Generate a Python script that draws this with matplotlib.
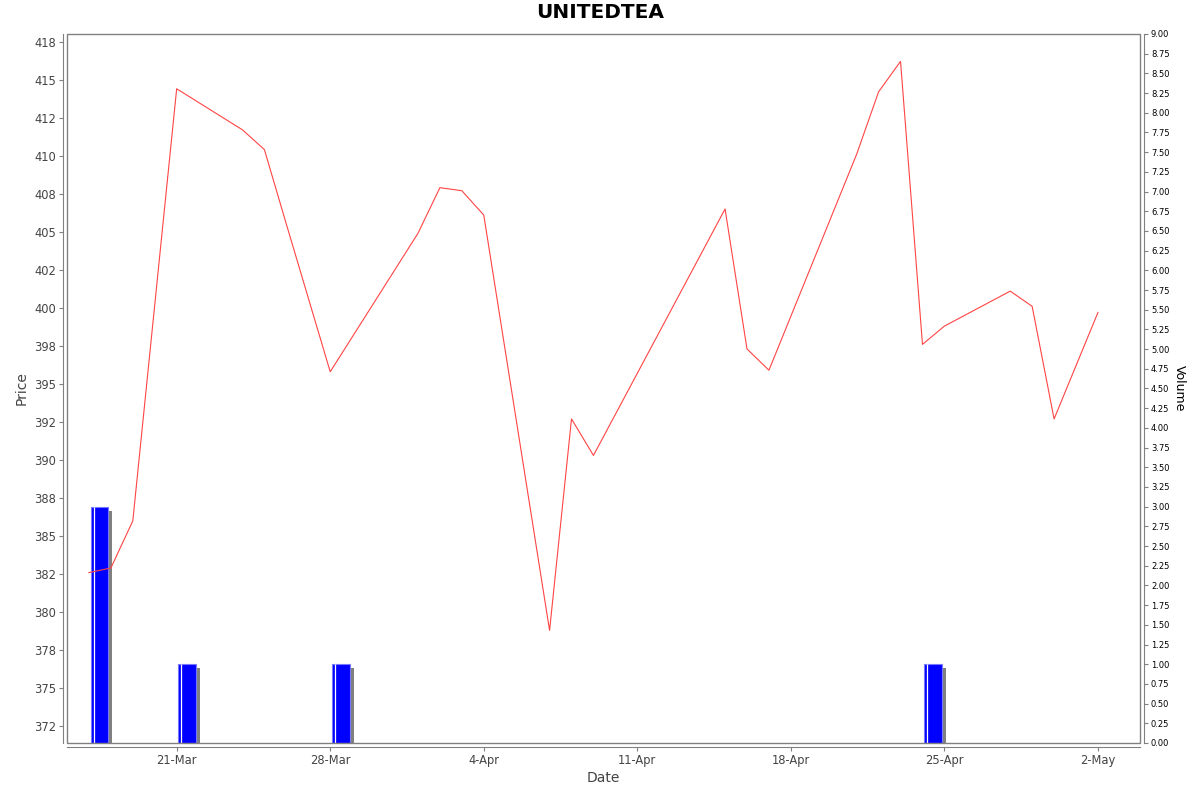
import datetime as dt
import numpy as np
import matplotlib
matplotlib.use('Agg')
import matplotlib.pyplot as plt
import matplotlib.dates as mdates
import matplotlib.transforms as mtransforms
from matplotlib.ticker import FixedLocator, FormatStrFormatter, MultipleLocator
from matplotlib.patches import Rectangle

# price data
price_dates = ['2025-03-17', '2025-03-18', '2025-03-19', '2025-03-21', '2025-03-24',
               '2025-03-25', '2025-03-26', '2025-03-28', '2025-04-01', '2025-04-02',
               '2025-04-03', '2025-04-04', '2025-04-07', '2025-04-08', '2025-04-09',
               '2025-04-15', '2025-04-16', '2025-04-17', '2025-04-21', '2025-04-22',
               '2025-04-23', '2025-04-24', '2025-04-25', '2025-04-28', '2025-04-29',
               '2025-04-30', '2025-05-02']
prices = [382.6, 382.9, 386.0, 414.4, 411.7,
          410.4, 405.5, 395.8, 404.9, 407.9,
          407.7, 406.1, 378.8, 392.7, 390.3,
          406.5, 397.3, 395.9, 410.1, 414.2,
          416.2, 397.6, 398.8, 401.1, 400.1,
          392.7, 399.7]

# volume data
vol_dates = ['2025-03-17', '2025-03-21', '2025-03-28', '2025-04-24']
volumes = [3, 1, 1, 1]

price_ticks = np.arange(372.5, 418, 2.5)

px = [dt.datetime.strptime(d, '%Y-%m-%d') for d in price_dates]
vx = mdates.date2num([dt.datetime.strptime(d, '%Y-%m-%d') for d in vol_dates])

fig = plt.figure(figsize=(12, 7.92), dpi=100)
ax = fig.add_axes([67/1200, 1 - 743/792, (1140-67)/1200, (743-34)/792])
ax2 = ax.twinx()
ax.set_zorder(ax2.get_zorder() + 1)
ax.patch.set_visible(False)

gray = '#808080'
off = 4 / 100 * 72  # 4 px in points

# volume bars with shadow
shadow = mtransforms.offset_copy(ax2.transData, fig=fig, x=4, y=-4, units='dots')
ax2.bar(vx + 0.08, volumes, width=0.8, align='edge', color=gray, linewidth=0,
        transform=shadow)
ax2.bar(vx + 0.08, volumes, width=0.8, align='edge', color='#0000FF',
        edgecolor='#7777FF', linewidth=0.8)
stripe = mtransforms.offset_copy(ax2.transData, fig=fig, x=3, y=0, units='dots')
ax2.vlines(vx + 0.08, 0, volumes, colors='white', linewidth=0.9, transform=stripe)

# price line
ax.plot(px, prices, color='#FF4444', linewidth=0.8)

ax.set_xlim(dt.datetime(2025, 3, 16), dt.datetime(2025, 5, 3, 22))
ax.set_ylim(371.4, 418.0)
ax2.set_ylim(0, 9)

ax.yaxis.set_major_locator(FixedLocator(price_ticks))
ax.yaxis.set_major_formatter(FormatStrFormatter('%.0f'))
ax.xaxis.set_major_locator(mdates.WeekdayLocator(byweekday=mdates.FR))
ax.xaxis.set_major_formatter(mdates.DateFormatter('%-d-%b'))
ax2.yaxis.set_major_locator(MultipleLocator(0.25))
ax2.yaxis.set_major_formatter(FormatStrFormatter('%.2f'))

for a in (ax, ax2):
    for s in a.spines.values():
        s.set_color(gray)
ax.spines['left'].set_position(('outward', off))
ax.spines['bottom'].set_position(('outward', off))
ax.spines['right'].set_visible(False)
ax.spines['top'].set_visible(False)
ax2.spines['right'].set_position(('outward', off))
for k in ('left', 'top', 'bottom'):
    ax2.spines[k].set_visible(False)

# plot frame
ax.add_patch(Rectangle((0, 0), 1, 1, transform=ax.transAxes, fill=False,
                       edgecolor=gray, linewidth=1, clip_on=False, zorder=5))

ax.tick_params(axis='both', colors=gray, labelcolor='#444444', labelsize=8.3,
               length=3, width=0.8, pad=2)
ax2.tick_params(axis='y', colors=gray, labelcolor='black', labelsize=6,
                length=3, width=0.8, pad=2)

ax.set_ylabel('Price', fontsize=10, color='#444444', labelpad=4)
ax.set_xlabel('Date', fontsize=10, color='#444444', labelpad=3)
ax2.set_ylabel('Volume', fontsize=9, color='black', rotation=270, labelpad=12)

fig.text(0.5, 1 - 13/792, 'UNITEDTEA', ha='center', va='center',
         fontsize=14.5, fontweight='bold')

fig.savefig('out.png', dpi=100, facecolor='white')
